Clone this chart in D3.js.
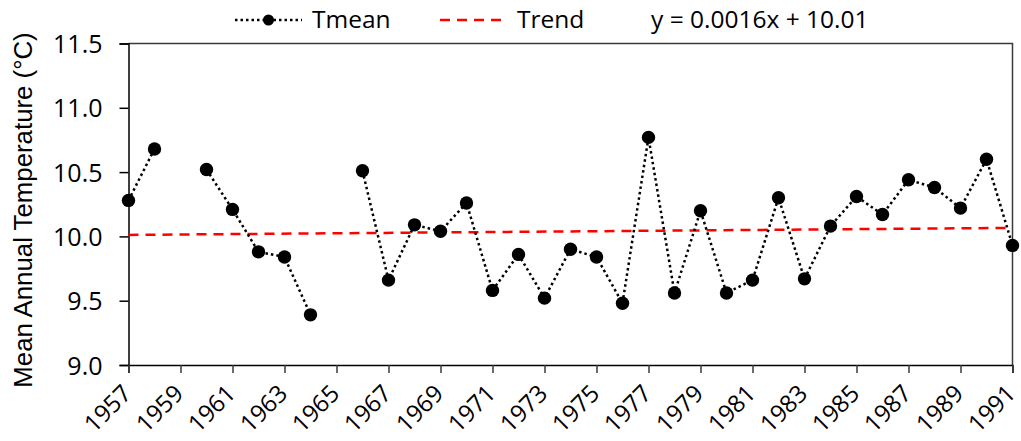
<!DOCTYPE html>
<html>
<head>
<meta charset="utf-8">
<script src="https://cdn.jsdelivr.net/npm/d3@7"></script>
<style>
  html, body { margin: 0; padding: 0; background: #fff; }
  svg { display: block; }
</style>
</head>
<body>
<svg id="chart" width="1021" height="441"></svg>
<script>
const years = [1957,1958,1959,1960,1961,1962,1963,1964,1965,1966,1967,1968,1969,1970,1971,1972,1973,1974,1975,1976,1977,1978,1979,1980,1981,1982,1983,1984,1985,1986,1987,1988,1989,1990,1991];
const tmean = [10.28,10.68,null,10.52,10.21,9.88,9.84,9.39,null,10.51,9.66,10.09,10.04,10.26,9.58,9.86,9.52,9.90,9.84,9.48,10.77,9.56,10.20,9.56,9.66,10.30,9.67,10.08,10.31,10.17,10.44,10.38,10.22,10.60,9.93];
const xTickYears = [1957,1959,1961,1963,1965,1967,1969,1971,1973,1975,1977,1979,1981,1983,1985,1987,1989,1991];
const yTicks = [9.0,9.5,10.0,10.5,11.0,11.5];
const trendSlope = 0.0016;
const trendIntercept = 10.01;
const legendLabels = ["Tmean", "Trend", "y = 0.0016x + 10.01"];

const svg = d3.select("#chart");
const pLeft = 128.5, pRight = 1012.5, pTop = 43.5, pBottom = 365;
const FONT = "'Open Sans', sans-serif";

const x = d3.scaleLinear().domain([1957, 1991]).range([pLeft, pRight]);
const y = d3.scaleLinear().domain([9.0, 11.5]).range([pBottom, pTop]);

// frame (top and right)
svg.append("path")
  .attr("d", `M${pLeft},${pTop}H${pRight}V${pBottom}`)
  .attr("fill", "none").attr("stroke", "#3a3a3a").attr("stroke-width", 1.5);

// y axis
const yAxis = d3.axisLeft(y).tickValues(yTicks).tickFormat(d3.format(".1f")).tickSize(9).tickPadding(17);
const gy = svg.append("g").attr("transform", `translate(${pLeft},0)`).call(yAxis);
gy.select(".domain").attr("stroke", "#000").attr("stroke-width", 1.5);
gy.selectAll(".tick line").attr("stroke", "#000").attr("stroke-width", 1.5);
gy.selectAll(".tick text").attr("font-family", FONT).attr("font-size", 25).attr("fill", "#000").attr("dy", "0.36em");

// x axis
const xAxis = d3.axisBottom(x).tickValues(xTickYears).tickFormat(d3.format("d")).tickSize(8);
const gx = svg.append("g").attr("transform", `translate(0,${pBottom})`).call(xAxis);
gx.select(".domain").attr("stroke", "#000").attr("stroke-width", 1.5);
gx.selectAll(".tick line").attr("stroke", "#3a3a3a").attr("stroke-width", 1.5);
gx.selectAll(".tick text")
  .attr("font-family", FONT).attr("font-size", 24).attr("fill", "#000")
  .attr("text-anchor", "end")
  .attr("y", 0).attr("dy", 0)
  .attr("transform", "translate(4,30) rotate(-45)");

// y title
svg.append("text")
  .attr("transform", `translate(32,${(32+388)/2}) rotate(-90)`)
  .attr("text-anchor", "middle")
  .attr("font-family", "'Liberation Sans', Arial, sans-serif")
  .attr("font-size", 25.8)
  .attr("fill", "#000")
  .text("Mean Annual Temperature (°C)");

// trend line
const trendData = [years[0], years[years.length-1]].map(yr => ({yr, v: trendSlope * (yr - years[0] + 1) + trendIntercept}));
svg.append("path")
  .datum(trendData)
  .attr("d", d3.line().x(d => x(d.yr)).y(d => y(d.v)))
  .attr("fill", "none").attr("stroke", "#ff0000").attr("stroke-width", 2.5)
  .attr("stroke-dasharray", "10,7");

// tmean line
const pts = years.map((yr, i) => ({yr, v: tmean[i]}));
svg.append("path")
  .datum(pts)
  .attr("d", d3.line().defined(d => d.v != null).x(d => x(d.yr)).y(d => y(d.v)))
  .attr("fill", "none").attr("stroke", "#000").attr("stroke-width", 2.5)
  .attr("stroke-dasharray", "2.5,3");

svg.append("g").selectAll("circle")
  .data(pts.filter(d => d.v != null))
  .join("circle")
  .attr("cx", d => x(d.yr)).attr("cy", d => y(d.v))
  .attr("r", 6.7).attr("fill", "#000");

// legend
const lg = svg.append("g");
lg.append("line").attr("x1", 235).attr("x2", 302).attr("y1", 20).attr("y2", 20)
  .attr("stroke", "#000").attr("stroke-width", 2.5).attr("stroke-dasharray", "2.5,3");
lg.append("circle").attr("cx", 268.5).attr("cy", 20).attr("r", 5.5).attr("fill", "#000");
lg.append("text").attr("x", 312).attr("y", 28).attr("font-family", FONT).attr("font-size", 24.5).text(legendLabels[0]);
lg.append("line").attr("x1", 440).attr("x2", 503).attr("y1", 20).attr("y2", 20)
  .attr("stroke", "#ff0000").attr("stroke-width", 2.5).attr("stroke-dasharray", "10,7");
lg.append("text").attr("x", 517).attr("y", 28).attr("font-family", FONT).attr("font-size", 24.5).text(legendLabels[1]);
lg.append("text").attr("x", 651).attr("y", 28).attr("font-family", FONT).attr("font-size", 24.5).text(legendLabels[2]);
</script>
</body>
</html>
